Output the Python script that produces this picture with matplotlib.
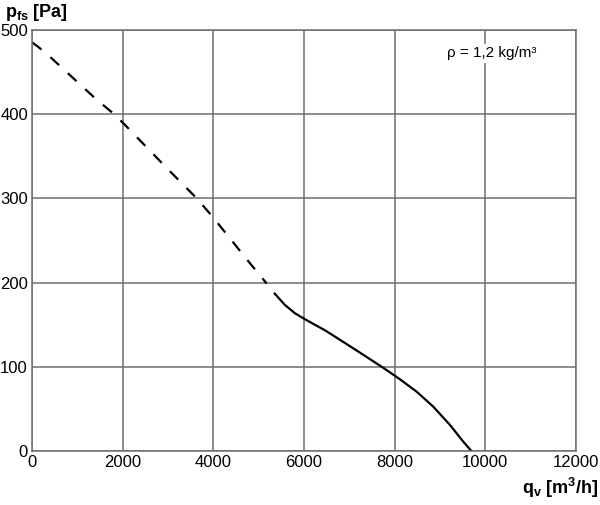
import matplotlib
matplotlib.use("Agg")
import matplotlib.pyplot as plt

plt.rcParams['font.family'] = ['Liberation Sans', 'DejaVu Sans']
plt.rcParams['mathtext.fontset'] = 'custom'
plt.rcParams['mathtext.rm'] = 'Liberation Sans'
plt.rcParams['mathtext.bf'] = 'Liberation Sans:bold'
plt.rcParams['lines.scale_dashes'] = False

# fan curve, dashed part (outside working range)
q_dash = [0, 150, 433, 837, 1426, 1830, 2088, 2971, 3413, 3634, 3987, 4810, 5178]
p_dash = [485, 479, 466, 446, 417, 399, 385, 336, 312, 300, 278, 223, 199]

# fan curve, solid part
q_solid = [5340, 5582, 5803, 6024, 6466, 6760, 7238, 7753, 8121, 8490, 8857, 9225, 9519, 9704]
p_solid = [188, 173.5, 163.7, 156.6, 143.5, 133.5, 117, 99, 85.4, 70.7, 52.9, 31.2, 11.4, 0]

xticks = [0, 2000, 4000, 6000, 8000, 10000, 12000]
yticks = [0, 100, 200, 300, 400, 500]

grey = '#6e6e6e'

fig = plt.figure(figsize=(6, 5.05), dpi=100)
ax = fig.add_axes([0.0535, 0.1063, 0.906, 0.8349])

ax.plot(q_dash, p_dash, color='black', lw=1.6, dashes=(8.5, 8.5))
ax.plot(q_solid, p_solid, color='black', lw=1.6, solid_capstyle='butt')

ax.set_xlim(0, 12000)
ax.set_ylim(0, 500)
ax.set_xticks(xticks)
ax.set_yticks(yticks)
ax.tick_params(length=0, labelsize=12, pad=3)
ax.grid(True, color=grey, lw=1.1)
ax.set_axisbelow(True)
for s in ax.spines.values():
    s.set_color(grey)
    s.set_linewidth(1.1)

ax.text(10150, 472, 'ρ = 1,2 kg/m³', fontsize=11, ha='center', va='center',
        bbox=dict(facecolor='white', edgecolor='none', pad=2))

fig.text(0.008, 0.975, r'$\mathbf{p_{fs}}$ $\mathbf{[Pa]}$', fontsize=13,
         ha='left', va='center')
fig.text(0.997, 0.033, r'$\mathbf{q_{v}}$ $\mathbf{[m^3/h]}$', fontsize=13,
         ha='right', va='center')

fig.savefig('out.png', dpi=100)
